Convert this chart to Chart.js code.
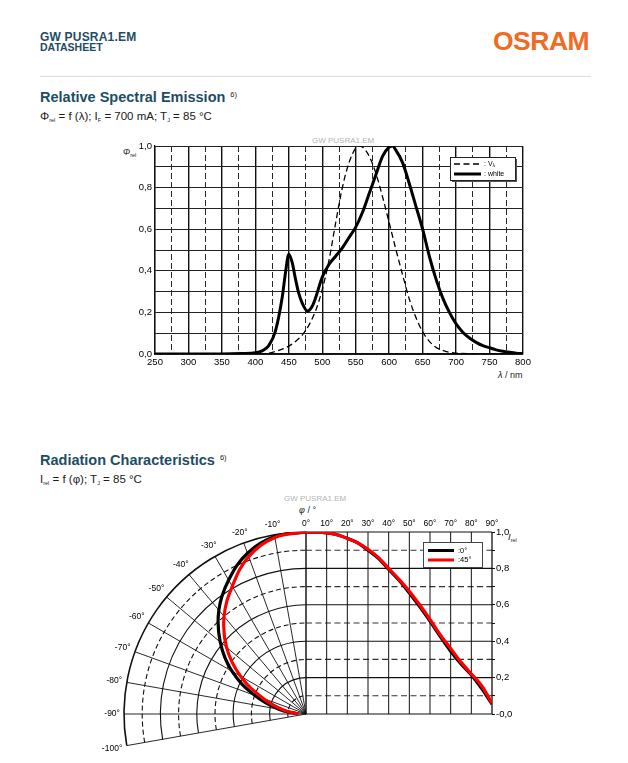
<!DOCTYPE html>
<html>
<head>
<meta charset="utf-8">
<title>GW PUSRA1.EM datasheet</title>
<script src="https://cdn.jsdelivr.net/npm/chart.js@4.4.1/dist/chart.umd.min.js"></script>
<style>
  html, body { margin: 0; padding: 0; background: #fff; }
  body { position: relative; width: 628px; height: 763px; overflow: hidden;
         font-family: "Liberation Sans", Arial, Helvetica, sans-serif; color: #1a1a1a; }
  .t { position: absolute; white-space: nowrap; line-height: 1; }
  .brand { color: #1d4d63; font-weight: bold; }
  .h2 { color: #1d4d63; font-weight: bold; font-size: 14.5px; }
  .sup { font-size: 7.5px; font-weight: normal; color: #222; position: relative; top: -5px; margin-left: 5px; }
  .sub { font-size: 5.5px; position: relative; top: 2px; }
  .wm { color: #b4b4b4; font-size: 8px; }
  canvas { position: absolute; }
</style>
</head>
<body>
<div class="t brand" style="left:40px;top:31px;font-size:12px;letter-spacing:0.2px">GW PUSRA1.EM</div>
<div class="t brand" style="left:40px;top:42px;font-size:10.5px">DATASHEET</div>
<div class="t" style="left:493px;top:28px;font-size:26.5px;font-weight:bold;color:#f06b24;letter-spacing:-0.5px">OSRAM</div>
<div style="position:absolute;left:40px;top:76px;width:551px;height:1px;background:#dcdcdc"></div>

<div class="t h2" style="left:40px;top:90px">Relative Spectral Emission<span class="sup">6)</span></div>
<div class="t" style="left:40px;top:111px;font-size:11.5px">&Phi;<span class="sub">rel</span> = f (&lambda;); I<span class="sub">F</span> = 700 mA; T<span class="sub">J</span> = 85 &deg;C</div>
<div class="t wm" style="left:312px;top:137px">GW PUSRA1.EM</div>
<div class="t" style="left:123px;top:148px;font-size:8.5px"><i>&Phi;</i><span class="sub">rel</span></div>
<div class="t" style="left:498px;top:371px;font-size:9px"><i>&lambda;</i> / nm</div>

<div class="t h2" style="left:40px;top:453px">Radiation Characteristics<span class="sup">6)</span></div>
<div class="t" style="left:40px;top:474px;font-size:11.5px">I<span class="sub">rel</span> = f (&phi;); T<span class="sub">J</span> = 85 &deg;C</div>
<div class="t wm" style="left:284px;top:495px">GW PUSRA1.EM</div>
<div class="t" style="left:299px;top:506px;font-size:9px"><i>&phi;</i> / &deg;</div>
<div class="t" style="left:508px;top:532px;font-size:9.5px"><i>I</i><span class="sub">rel</span></div>

<canvas id="spectrum" width="440" height="262" style="left:100px;top:128px"></canvas>
<canvas id="radiation" width="450" height="273" style="left:90px;top:490px"></canvas>

<script>
// spectral emission (white LED)
const wavelengths = [250, 300, 350, 380, 400, 410, 420, 430, 440, 445, 450, 455, 460, 465, 470, 478, 485, 490, 500, 510, 520, 530, 540, 550, 560, 570, 580, 590, 600, 605, 610, 620, 630, 640, 650, 660, 670, 680, 690, 700, 710, 720, 730, 740, 750, 760, 770, 780, 790, 800];
const whiteEmission = [0, 0, 0, 0.002, 0.006, 0.015, 0.04, 0.11, 0.27, 0.39, 0.48, 0.44, 0.36, 0.29, 0.245, 0.207, 0.23, 0.27, 0.37, 0.43, 0.47, 0.51, 0.56, 0.61, 0.68, 0.77, 0.86, 0.95, 0.995, 1.0, 0.98, 0.92, 0.82, 0.71, 0.60, 0.47, 0.36, 0.27, 0.20, 0.145, 0.105, 0.077, 0.056, 0.04, 0.03, 0.02, 0.013, 0.008, 0.004, 0.002];

// eye sensitivity V(lambda)
const vLambdaWavelengths = [250, 380, 400, 420, 430, 440, 450, 460, 470, 480, 490, 500, 510, 520, 530, 540, 550, 556, 560, 570, 580, 590, 600, 610, 620, 630, 640, 650, 660, 670, 680, 690, 700, 720, 750, 800];
const vLambda = [0, 0, 0.0004, 0.004, 0.012, 0.023, 0.038, 0.06, 0.091, 0.139, 0.208, 0.31, 0.45, 0.63, 0.80, 0.92, 0.99, 1.0, 0.995, 0.952, 0.87, 0.757, 0.631, 0.503, 0.381, 0.265, 0.175, 0.107, 0.061, 0.032, 0.017, 0.008, 0.004, 0.001, 0, 0];

// radiation pattern, polar half (left)
const polarAngles = [0, 10, 20, 30, 40, 50, 60, 70, 80, 90];
const polar0 = [1.0, 0.99, 0.94, 0.85, 0.745, 0.615, 0.47, 0.30, 0.155, 0.045];
const polar45 = [1.0, 0.985, 0.92, 0.81, 0.70, 0.57, 0.415, 0.25, 0.125, 0.04];

// radiation pattern, cartesian half (right)
const cartAngles = [0, 5, 10, 15, 20, 25, 30, 35, 40, 45, 50, 55, 60, 65, 70, 75, 80, 85, 90];
const cart0 = [1.0, 0.999, 0.995, 0.985, 0.965, 0.94, 0.90, 0.855, 0.795, 0.735, 0.665, 0.59, 0.51, 0.425, 0.345, 0.275, 0.215, 0.14, 0.055];
const cart45 = [1.0, 0.999, 0.995, 0.985, 0.965, 0.94, 0.905, 0.86, 0.80, 0.74, 0.675, 0.60, 0.52, 0.435, 0.36, 0.285, 0.22, 0.155, 0.06];

const polarTickLabels = [-10, -20, -30, -40, -50, -60, -70, -80, -90, -100];
const ringValues = [0.1, 0.2, 0.3, 0.4, 0.5, 0.6, 0.7, 0.8, 0.9, 1.0];

const FONT = '"Liberation Sans", Arial, Helvetica, sans-serif';
Chart.defaults.font.family = FONT;
Chart.defaults.color = '#000';
Chart.defaults.animation = false;

const d2r = Math.PI / 180;
const comma = v => v.toFixed(1).replace('.', ',');

/* legend boxes drawn inside the plot */
const spectrumLegend = {
  id: 'spectrumLegend',
  afterDatasetsDraw(chart) {
    const { ctx, chartArea } = chart;
    const bx = chartArea.right - 73, by = chartArea.top + 11, bw = 65, bh = 23;
    ctx.save();
    ctx.fillStyle = '#555';
    ctx.fillRect(bx + 2, by + 2, bw, bh);
    ctx.fillStyle = '#fff';
    ctx.fillRect(bx, by, bw, bh);
    ctx.strokeStyle = '#222';
    ctx.lineWidth = 1;
    ctx.strokeRect(bx + 0.5, by + 0.5, bw, bh);
    const ds = chart.data.datasets;
    ds.forEach((d, i) => {
      const yy = by + 7 + i * 10;
      ctx.beginPath();
      ctx.strokeStyle = d.borderColor;
      ctx.lineWidth = d.borderWidth;
      ctx.setLineDash(d.borderDash || []);
      ctx.moveTo(bx + 4, yy);
      ctx.lineTo(bx + 31, yy);
      ctx.stroke();
      ctx.setLineDash([]);
      ctx.fillStyle = '#000';
      ctx.textBaseline = 'middle';
      ctx.font = '7px ' + FONT;
      ctx.fillText(': ' + d.label, bx + 34, yy);
      if (d.label === 'V') {
        const w = ctx.measureText(': V').width;
        ctx.font = '5px ' + FONT;
        ctx.fillText('\u03bb', bx + 34 + w, yy + 2);
      }
    });
    ctx.restore();
  }
};

new Chart(document.getElementById('spectrum'), {
  type: 'scatter',
  data: {
    datasets: [
      {
        label: 'V',
        data: vLambdaWavelengths.map((w, i) => ({ x: w, y: vLambda[i] })),
        showLine: true, borderColor: '#000', borderWidth: 1.3, borderDash: [6, 3.5],
        pointRadius: 0, cubicInterpolationMode: 'monotone', order: 1
      },
      {
        label: 'white',
        data: wavelengths.map((w, i) => ({ x: w, y: whiteEmission[i] })),
        showLine: true, borderColor: '#000', borderWidth: 3,
        pointRadius: 0, cubicInterpolationMode: 'monotone', order: 0
      }
    ]
  },
  options: {
    responsive: false,
    animation: false,
    events: [],
    layout: { padding: { top: 18, right: 17, left: 0, bottom: 0 } },
    plugins: { legend: { display: false }, tooltip: { enabled: false } },
    scales: {
      x: {
        type: 'linear', min: 250, max: 800,
        afterFit: s => { s.height = 36; },
        ticks: {
          stepSize: 25, autoSkip: false, maxRotation: 0, padding: 3,
          font: { size: 9.5 },
          callback: v => (v % 50 === 0 ? String(v) : '')
        },
        grid: {
          color: '#111', drawTicks: false,
          lineWidth: c => (c.tick && c.tick.value % 50 !== 0 ? 0.9 : 1.4)
        },
        border: {
          color: '#111', width: 1.4,
          dash: c => (c.tick && c.tick.value % 50 !== 0 ? [6, 3] : [])
        }
      },
      y: {
        min: 0, max: 1,
        afterFit: s => { s.width = 55; },
        ticks: {
          stepSize: 0.1, padding: 3, font: { size: 9.5 },
          callback: v => (Math.round(v * 10) % 2 === 0 ? comma(v) : '')
        },
        grid: { color: '#222', lineWidth: 1, drawTicks: false },
        border: { color: '#111', width: 1.3 }
      }
    }
  },
  plugins: [spectrumLegend]
});

/* polar + cartesian grid of the radiation diagram */
const radiationGrid = {
  id: 'radiationGrid',
  beforeDatasetsDraw(chart) {
    const { ctx } = chart;
    const { xp, xd, y } = chart.scales;
    const cx = xp.getPixelForValue(0), cy = y.getPixelForValue(0);
    const rx = xp.getPixelForValue(1) - cx, ry = cy - y.getPixelForValue(1);
    ctx.save();
    ctx.strokeStyle = '#111';

    // rings
    ringValues.forEach((r, k) => {
      ctx.beginPath();
      ctx.lineWidth = r === 1 ? 1.6 : 1.1;
      ctx.setLineDash(k % 2 === 0 ? [5, 3] : []);
      ctx.ellipse(cx, cy, rx * r, ry * r, 0, Math.PI - 10 * d2r, 1.5 * Math.PI);
      ctx.stroke();
    });
    ctx.setLineDash([]);

    // spokes
    ctx.lineWidth = 0.9;
    for (let a = 0; a <= 100; a += 10) {
      ctx.beginPath();
      ctx.moveTo(cx, cy);
      ctx.lineTo(xp.getPixelForValue(-Math.sin(a * d2r)), y.getPixelForValue(Math.cos(a * d2r)));
      ctx.stroke();
    }

    // cartesian half
    const x0 = xd.getPixelForValue(0), x90 = xd.getPixelForValue(90);
    ringValues.concat([0]).forEach((v, k) => {
      const yy = y.getPixelForValue(v);
      ctx.beginPath();
      ctx.lineWidth = 1.1;
      ctx.strokeStyle = k % 2 === 0 && v !== 0 ? '#333' : '#111';
      ctx.setLineDash(k % 2 === 0 && v !== 0 ? [6, 3.5] : []);
      ctx.moveTo(x0, yy);
      ctx.lineTo(x90, yy);
      ctx.stroke();
    });
    ctx.setLineDash([]);
    ctx.strokeStyle = '#111';
    for (let deg = 0; deg <= 90; deg += 10) {
      const xx = xd.getPixelForValue(deg);
      ctx.beginPath();
      ctx.lineWidth = deg === 90 ? 1.3 : 1;
      ctx.moveTo(xx, y.getPixelForValue(0));
      ctx.lineTo(xx, y.getPixelForValue(1));
      ctx.stroke();
    }

    // angle labels round the polar half
    ctx.fillStyle = '#000';
    ctx.font = '8.5px ' + FONT;
    ctx.textAlign = 'center';
    ctx.textBaseline = 'middle';
    polarTickLabels.forEach(a => {
      const txt = a + '\u00b0';
      const hw = ctx.measureText(txt).width / 2;
      const s = Math.sin(-a * d2r), c = Math.cos(-a * d2r);
      const off = 4 + hw * Math.abs(s) + 5 * Math.abs(c);
      ctx.fillText(txt, cx - (rx + off) * s, cy - (ry + off) * c);
    });
    ctx.restore();
  },
  afterDatasetsDraw(chart) {
    const { ctx, chartArea } = chart;
    const bx = chartArea.right - 69, by = chartArea.top + 10, bw = 59, bh = 25;
    ctx.save();
    ctx.fillStyle = '#fff';
    ctx.fillRect(bx, by, bw, bh);
    ctx.strokeStyle = '#444';
    ctx.lineWidth = 1;
    ctx.strokeRect(bx + 0.5, by + 0.5, bw, bh);
    const shown = chart.data.datasets.filter(d => d.xAxisID === 'xd');
    shown.forEach((d, i) => {
      const yy = by + 8.5 + i * 9.5;
      ctx.beginPath();
      ctx.strokeStyle = d.borderColor;
      ctx.lineWidth = 3;
      ctx.moveTo(bx + 5, yy);
      ctx.lineTo(bx + 31, yy);
      ctx.stroke();
      ctx.fillStyle = '#000';
      ctx.font = '7.5px ' + FONT;
      ctx.textBaseline = 'middle';
      ctx.fillText(':' + d.label, bx + 35, yy);
    });
    ctx.restore();
  }
};

const polarPoints = vals => polarAngles.map((a, i) => ({
  x: -vals[i] * Math.sin(a * d2r),
  y: vals[i] * Math.cos(a * d2r)
}));
const cartPoints = vals => cartAngles.map((a, i) => ({ x: a, y: vals[i] }));

const rightRatio = 186 / 182; // width of the 0..90 deg panel relative to the radius

new Chart(document.getElementById('radiation'), {
  type: 'scatter',
  data: {
    datasets: [
      { label: '0\u00b0', data: polarPoints(polar0), xAxisID: 'xp', yAxisID: 'y',
        showLine: true, borderColor: '#000', borderWidth: 3.2, pointRadius: 0, tension: 0.4, order: 2 },
      { label: '0\u00b0', data: cartPoints(cart0), xAxisID: 'xd', yAxisID: 'y',
        showLine: true, borderColor: '#000', borderWidth: 3.2, pointRadius: 0, cubicInterpolationMode: 'monotone', order: 2 },
      { label: '45\u00b0', data: polarPoints(polar45), xAxisID: 'xp', yAxisID: 'y',
        showLine: true, borderColor: '#f00', borderWidth: 3.2, pointRadius: 0, tension: 0.4, order: 1 },
      { label: '45\u00b0', data: cartPoints(cart45), xAxisID: 'xd', yAxisID: 'y',
        showLine: true, borderColor: '#f00', borderWidth: 3.2, pointRadius: 0, cubicInterpolationMode: 'monotone', order: 1 }
    ]
  },
  options: {
    responsive: false,
    animation: false,
    events: [],
    layout: { padding: { left: 34, top: 18, right: 0, bottom: 12.6 } },
    plugins: { legend: { display: false }, tooltip: { enabled: false } },
    scales: {
      xp: { type: 'linear', display: false, min: -1, max: rightRatio },
      xd: {
        type: 'linear', position: 'top', min: -90 / rightRatio, max: 90,
        afterBuildTicks: s => {
          s.ticks = s.ticks.filter(t => t.value > -0.001 && Math.abs(t.value - Math.round(t.value / 10) * 10) < 1e-6);
        },
        afterFit: s => { s.height = 24; },
        ticks: { stepSize: 10, autoSkip: false, maxRotation: 0, padding: 3, font: { size: 8.5 },
                 callback: v => v + '\u00b0' },
        grid: { display: false, drawTicks: false, tickLength: 0 },
        border: { display: false }
      },
      y: {
        position: 'right', min: -0.2, max: 1,
        afterBuildTicks: s => { s.ticks = s.ticks.filter(t => t.value > -0.001); },
        afterFit: s => { s.width = 48; },
        ticks: { stepSize: 0.1, padding: 1, font: { size: 9.5 },
                 callback: v => (Math.round(v * 10) % 2 === 0 ? comma(v) : '') },
        grid: { drawOnChartArea: false, drawTicks: true, tickLength: 3, color: '#111' },
        border: { display: false }
      }
    }
  },
  plugins: [radiationGrid]
});
</script>
</body>
</html>
